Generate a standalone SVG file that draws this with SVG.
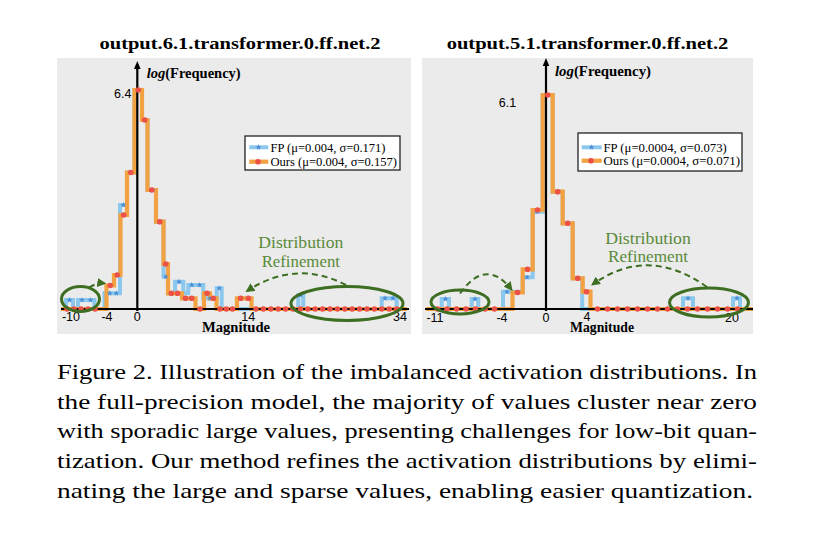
<svg xmlns="http://www.w3.org/2000/svg" xmlns:xlink="http://www.w3.org/1999/xlink" width="823" height="540" viewBox="0 0 823 540">
<defs>
<style>
.bg{fill:#ebebeb}
.fp{fill:none;stroke:#8cc7ee;stroke-width:4;stroke-linejoin:miter}
.ours{fill:none;stroke:#f2a242;stroke-width:4.2;stroke-linejoin:miter}
.axis{stroke:#000;stroke-width:2.2;fill:none}
.ah{fill:#000}
.star{fill:#4c8fd6}
.dot{fill:#ec5148}
.bdots{fill:none;stroke:#ec5148;stroke-width:5.6;stroke-linecap:round}
.ell{fill:none;stroke:#3d6e22;stroke-width:3}
.dash{fill:none;stroke:#3d6e22;stroke-width:2;stroke-dasharray:6 4}
.ttl{font-family:"Liberation Serif","Times New Roman",serif;font-weight:bold;font-size:17.5px;fill:#000}
.lab{font-family:"Liberation Serif","Times New Roman",serif;font-weight:bold;font-size:14.5px;fill:#000}
.tick{font-family:"Liberation Sans",Arial,sans-serif;font-size:12.5px;fill:#000}
.leg{font-family:"Liberation Serif","Times New Roman",serif;font-size:12.4px;fill:#000}
.legbox{fill:#fff;stroke:#222;stroke-width:1.3}
.ann{font-family:"Liberation Serif","Times New Roman",serif;font-size:16.8px;fill:#5a8a3a}
.cap{font-family:"Liberation Serif","Times New Roman",serif;font-size:21px;fill:#000}
</style>
<path id="star" d="M0,-3 L0.76,-1.05 2.85,-0.93 1.24,0.4 1.76,2.43 0,1.3 -1.76,2.43 -1.24,0.4 -2.85,-0.93 -0.76,-1.05Z"/>
<marker id="arr" viewBox="0 0 10 10" refX="8" refY="5" markerWidth="4.5" markerHeight="4.5" orient="auto">
<path d="M0,0 L10,5 L0,10Z" fill="#3d6e22"/>
</marker>
</defs>

<g id="panel-left">
<rect class="bg" x="57" y="58" width="354" height="276"/>
<text class="ttl" x="240" y="49" text-anchor="middle" textLength="281" lengthAdjust="spacingAndGlyphs">output.6.1.transformer.0.ff.net.2</text>
<g id="left-curves">
<path class="fp" d="M61,309 H66 V300 H73 V309 H78 V300 H94.5 V309 H104.5 V293.3 H120 V205 H127 V172.5 H134.5 V90 H142 V120 H147.5 V190 H156 V221.7 H163.5 V276.7 H168 V293.3 H175 V281.7 H183.3 V293.3 H188.3 V285 H203.3 V298.3 H216.7 V288.3 H221.7 V309 H298.3 V295 H303.3 V309 H381.7 V298.3 H396.7 V309 H407"/>
<path class="ours" d="M61,309 H106.5 V285.5 H114 V275 H120.5 V215 H127 V172.5 H134.5 V90 H142 V120 H147.5 V190 H156 V221.7 H163.5 V264 H168 V293.3 H182 V298.3 H195.5 V309 H204 V293.3 H210 V298.3 H216.5 V309 H237 V298.3 H251.5 V309 H407"/>
</g>
<g id="left-axes">
<line class="axis" x1="61" y1="309" x2="409" y2="309"/>
<line class="axis" x1="137.3" y1="311" x2="137.3" y2="67"/>
<polygon class="ah" points="137.3,61 134,69 140.6,69"/>
</g>
<g id="left-markers">
<use href="#star" class="star" x="69.5" y="300"/>
<use href="#star" class="star" x="82" y="300"/>
<use href="#star" class="star" x="90.5" y="300"/>
<use href="#star" class="star" x="109.7" y="293.3"/>
<use href="#star" class="star" x="116.3" y="293.3"/>
<use href="#star" class="star" x="123.3" y="205"/>
<use href="#star" class="star" x="152.7" y="190"/>
<use href="#star" class="star" x="160" y="221.7"/>
<use href="#star" class="star" x="165.7" y="276.7"/>
<use href="#star" class="star" x="179" y="281.7"/>
<use href="#star" class="star" x="191.7" y="285"/>
<use href="#star" class="star" x="199.5" y="285"/>
<use href="#star" class="star" x="210" y="298.3"/>
<use href="#star" class="star" x="219.2" y="288.3"/>
<use href="#star" class="star" x="300.8" y="295"/>
<use href="#star" class="star" x="385" y="298.3"/>
<use href="#star" class="star" x="393" y="298.3"/>
<line class="bdots" x1="67" y1="309" x2="102" y2="309" stroke-dasharray="0 7"/>
<line class="bdots" x1="256" y1="309" x2="404" y2="309" stroke-dasharray="0 7.4"/>
<circle class="dot" cx="110.2" cy="285.5" r="2.8"/>
<circle class="dot" cx="117.2" cy="275" r="2.8"/>
<circle class="dot" cx="123.7" cy="215" r="2.8"/>
<circle class="dot" cx="130.8" cy="172.5" r="2.8"/>
<circle class="dot" cx="138.3" cy="90" r="2.8"/>
<circle class="dot" cx="144.7" cy="120" r="2.8"/>
<circle class="dot" cx="151.7" cy="190" r="2.8"/>
<circle class="dot" cx="159.7" cy="221.7" r="2.8"/>
<circle class="dot" cx="165.7" cy="264" r="2.8"/>
<circle class="dot" cx="171.3" cy="293.3" r="2.8"/>
<circle class="dot" cx="177.6" cy="293.3" r="2.8"/>
<circle class="dot" cx="185.5" cy="298.3" r="2.8"/>
<circle class="dot" cx="191.7" cy="298.3" r="2.8"/>
<circle class="dot" cx="200" cy="309" r="2.8"/>
<circle class="dot" cx="207" cy="293.3" r="2.8"/>
<circle class="dot" cx="213.3" cy="298.3" r="2.8"/>
<circle class="dot" cx="220" cy="309" r="2.8"/>
<circle class="dot" cx="226.3" cy="309" r="2.8"/>
<circle class="dot" cx="232.5" cy="309" r="2.8"/>
<circle class="dot" cx="240.7" cy="298.3" r="2.8"/>
<circle class="dot" cx="248.3" cy="298.3" r="2.8"/>
</g>
<g id="left-labels">
<text class="lab" x="146.7" y="77.5" textLength="94" lengthAdjust="spacingAndGlyphs"><tspan font-style="italic">log</tspan>(Frequency)</text>
<text class="tick" x="122.7" y="97.7" text-anchor="middle">6.4</text>
<text class="tick" x="71" y="321" text-anchor="middle">-10</text>
<text class="tick" x="107" y="321" text-anchor="middle">-4</text>
<text class="tick" x="137.3" y="321" text-anchor="middle">0</text>
<text class="tick" x="248.3" y="320.5" text-anchor="middle">14</text>
<text class="tick" x="400" y="321" text-anchor="middle">34</text>
<text class="lab" x="236" y="332.3" text-anchor="middle" textLength="68" lengthAdjust="spacingAndGlyphs">Magnitude</text>
</g>
<g id="left-legend">
<rect class="legbox" x="245" y="136" width="155" height="34"/>
<line class="fp" x1="249.3" y1="147.3" x2="268.3" y2="147.3"/>
<use href="#star" class="star" x="258.5" y="147.3"/>
<line class="ours" x1="249.3" y1="161.7" x2="268.3" y2="161.7"/>
<circle class="dot" cx="258" cy="161.7" r="2.8"/>
<text class="leg" x="270.5" y="151.5" textLength="115" lengthAdjust="spacingAndGlyphs">FP (μ=0.004, σ=0.171)</text>
<text class="leg" x="270.5" y="166" textLength="126.5" lengthAdjust="spacingAndGlyphs">Ours (μ=0.004, σ=0.157)</text>
</g>
<g id="left-annotation">
<ellipse class="ell" cx="80.5" cy="299" rx="19" ry="12.5"/>
<ellipse class="ell" cx="347" cy="303.5" rx="56" ry="17"/>
<path class="dash" d="M89,287.5 Q97,282.5 104.5,283.3" marker-end="url(#arr)"/>
<path class="dash" d="M346,285 Q296,259 247,291" marker-end="url(#arr)"/>
<text class="ann" x="300.8" y="247.5" text-anchor="middle" textLength="85" lengthAdjust="spacingAndGlyphs">Distribution</text>
<text class="ann" x="300.8" y="266.5" text-anchor="middle" textLength="78.3" lengthAdjust="spacingAndGlyphs">Refinement</text>
</g>
</g>

<g id="panel-right">
<rect class="bg" x="422" y="58" width="331" height="276"/>
<text class="ttl" x="587.5" y="49" text-anchor="middle" textLength="281.7" lengthAdjust="spacingAndGlyphs">output.5.1.transformer.0.ff.net.2</text>
<g id="right-curves">
<path class="fp" d="M426,309 H441.7 V299 H449 V309 H471.7 V299 H478.3 V309 H503 V291.7 H522.7 V277.3 H532.7 V211.7 H542.7 V95 H552.7 V191.7 H562.7 V223.3 H572.7 V278.3 H582.2 V309 H683 V298.3 H693 V309 H733 V298.3 H740 V309 H753"/>
<path class="ours" d="M426,309 H512.5 V292.5 H522.7 V269.3 H532.7 V210 H542.7 V95 H552.7 V191.7 H562.7 V223.3 H572.7 V278.3 H582.7 V291.7 H590.5 V309 H753"/>
</g>
<g id="right-axes">
<line class="axis" x1="425" y1="309" x2="753" y2="309"/>
<line class="axis" x1="546" y1="311" x2="546" y2="64"/>
<polygon class="ah" points="546,58 542.7,66 549.3,66"/>
</g>
<g id="right-markers">
<use href="#star" class="star" x="445.5" y="299"/>
<use href="#star" class="star" x="475" y="299"/>
<use href="#star" class="star" x="507" y="291.7"/>
<use href="#star" class="star" x="527" y="277.3"/>
<use href="#star" class="star" x="537" y="211.7"/>
<use href="#star" class="star" x="688" y="298.3"/>
<use href="#star" class="star" x="737" y="298.3"/>
<line class="bdots" x1="437.5" y1="309" x2="504" y2="309" stroke-dasharray="0 9.5"/>
<line class="bdots" x1="597.5" y1="309" x2="747.5" y2="309" stroke-dasharray="0 10"/>
<circle class="dot" cx="517.5" cy="292.5" r="2.8"/>
<circle class="dot" cx="527.5" cy="269.3" r="2.8"/>
<circle class="dot" cx="537.5" cy="210" r="2.8"/>
<circle class="dot" cx="547.7" cy="95" r="2.8"/>
<circle class="dot" cx="557.7" cy="191.7" r="2.8"/>
<circle class="dot" cx="567.7" cy="223.3" r="2.8"/>
<circle class="dot" cx="577.7" cy="278.3" r="2.8"/>
<circle class="dot" cx="586.5" cy="291.7" r="2.8"/>
</g>
<g id="right-labels">
<text class="lab" x="555" y="75.5" textLength="96" lengthAdjust="spacingAndGlyphs"><tspan font-style="italic">log</tspan>(Frequency)</text>
<text class="tick" x="507.5" y="107.3" text-anchor="middle">6.1</text>
<text class="tick" x="435" y="321.5" text-anchor="middle">-11</text>
<text class="tick" x="502" y="321.5" text-anchor="middle">-4</text>
<text class="tick" x="546" y="321.5" text-anchor="middle">0</text>
<text class="tick" x="587" y="320.5" text-anchor="middle">4</text>
<text class="tick" x="732" y="321.5" text-anchor="middle">20</text>
<text class="lab" x="602" y="332.3" text-anchor="middle" textLength="64" lengthAdjust="spacingAndGlyphs">Magnitude</text>
</g>
<g id="right-legend">
<rect class="legbox" x="578" y="133" width="164" height="38"/>
<line class="fp" x1="581.7" y1="147.3" x2="601.7" y2="147.3"/>
<use href="#star" class="star" x="591.5" y="147.3"/>
<line class="ours" x1="581.7" y1="160.7" x2="601.7" y2="160.7"/>
<circle class="dot" cx="591" cy="160.7" r="2.8"/>
<text class="leg" x="603.5" y="151.5" textLength="123.3" lengthAdjust="spacingAndGlyphs">FP (μ=0.0004, σ=0.073)</text>
<text class="leg" x="603.5" y="165" textLength="136.5" lengthAdjust="spacingAndGlyphs">Ours (μ=0.0004, σ=0.071)</text>
</g>
<g id="right-annotation">
<ellipse class="ell" cx="460" cy="302" rx="29" ry="12"/>
<ellipse class="ell" cx="709" cy="302.5" rx="39.5" ry="14.5"/>
<path class="dash" d="M460,293.5 Q486,257 511.5,289.5" marker-end="url(#arr)"/>
<path class="dash" d="M707,287 Q648,245 592.5,284.5" marker-end="url(#arr)"/>
<text class="ann" x="648" y="243.5" text-anchor="middle" textLength="85.7" lengthAdjust="spacingAndGlyphs">Distribution</text>
<text class="ann" x="648" y="262" text-anchor="middle" textLength="80" lengthAdjust="spacingAndGlyphs">Refinement</text>
</g>
</g>

<g id="caption">
<text class="cap" x="57" y="379" textLength="700" lengthAdjust="spacingAndGlyphs">Figure 2. Illustration of the imbalanced activation distributions. In</text>
<text class="cap" x="57" y="408.7" textLength="700" lengthAdjust="spacingAndGlyphs">the full-precision model, the majority of values cluster near zero</text>
<text class="cap" x="57" y="438.4" textLength="700" lengthAdjust="spacingAndGlyphs">with sporadic large values, presenting challenges for low-bit quan-</text>
<text class="cap" x="57" y="468.1" textLength="700" lengthAdjust="spacingAndGlyphs">tization. Our method refines the activation distributions by elimi-</text>
<text class="cap" x="57" y="497.8" textLength="696" lengthAdjust="spacingAndGlyphs">nating the large and sparse values, enabling easier quantization.</text>
</g>
</svg>
